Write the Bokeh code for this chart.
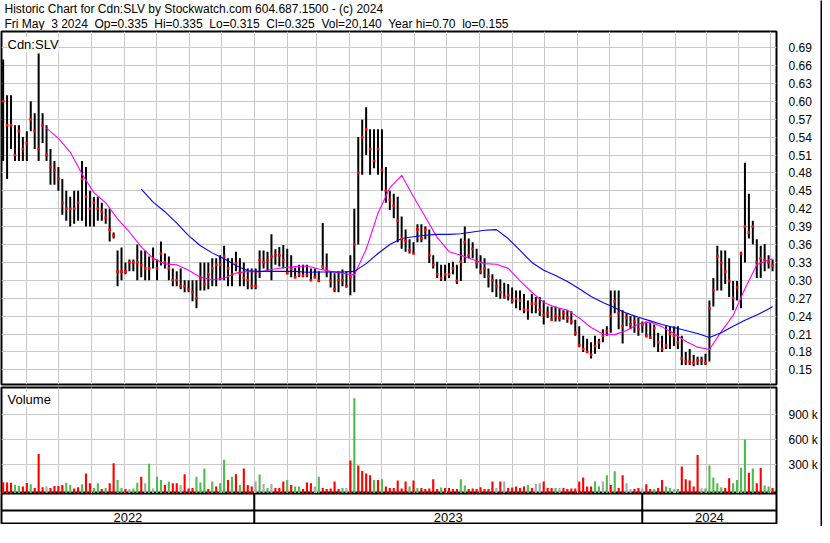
import pandas as pd
from bokeh.plotting import figure
from bokeh.layouts import column, row
from bokeh.models import (Range1d, FixedTicker, Grid, Label, Span,
                          ColumnDataSource, NumeralTickFormatter)
from bokeh.core.properties import value
from bokeh.embed import file_html
from bokeh.resources import INLINE

FONT = "Liberation Sans"
GRID = "#c8c8c8"

# ---------------- texts ----------------
title_line1 = "Historic Chart for Cdn:SLV by Stockwatch.com 604.687.1500 - (c) 2024"
title_line2 = ("Fri May\u00a0 3 2024\u00a0 Op=0.335\u00a0 Hi=0.335\u00a0 Lo=0.315\u00a0 "
               "Cl=0.325\u00a0 Vol=20,140\u00a0 Year hi=0.70\u00a0 lo=0.155")
symbol = "Cdn:SLV"
volume_title = "Volume"
years = ["2022", "2023", "2024"]
year_starts = ["2023-01-01", "2024-01-01"]

# ---------------- dates ----------------
bar_start = "2022-05-09 18:00"
bar_end = "2024-05-02 14:00"
view_start = "2022-05-08 05:00"
view_end = "2024-05-06 07:00"
month_first = "2022-06-01"
month_last = "2024-05-01"

# ---------------- price bars (high / low / close) ----------------
high = [0.67, 0.61, 0.61, 0.56, 0.56, 0.54, 0.55, 0.60, 0.58, 0.68,
        0.58, 0.56, 0.52, 0.50, 0.49, 0.47, 0.45, 0.44, 0.45, 0.45,
        0.50, 0.49, 0.45, 0.44, 0.44, 0.43, 0.42, 0.42, 0.38, 0.35,
        0.355, 0.33, 0.335, 0.335, 0.36, 0.35, 0.35, 0.34, 0.355, 0.335,
        0.365, 0.345, 0.34, 0.32, 0.315, 0.32, 0.30, 0.30, 0.30, 0.30,
        0.33, 0.33, 0.33, 0.337, 0.337, 0.342, 0.358, 0.337, 0.337, 0.348,
        0.337, 0.33, 0.32, 0.32, 0.32, 0.35, 0.35, 0.348, 0.377, 0.352,
        0.356, 0.359, 0.353, 0.342, 0.321, 0.326, 0.326, 0.326, 0.32, 0.32,
        0.315, 0.396, 0.345, 0.315, 0.312, 0.315, 0.318, 0.315, 0.342, 0.42,
        0.54, 0.569, 0.59, 0.553, 0.553, 0.553, 0.553, 0.49, 0.45, 0.445,
        0.44, 0.407, 0.385, 0.369, 0.364, 0.394, 0.394, 0.39, 0.385, 0.342,
        0.331, 0.326, 0.326, 0.329, 0.331, 0.326, 0.37, 0.39, 0.37, 0.364,
        0.353, 0.342, 0.337, 0.32, 0.31, 0.302, 0.302, 0.296, 0.294, 0.288,
        0.283, 0.283, 0.277, 0.266, 0.277, 0.272, 0.272, 0.266, 0.256, 0.256,
        0.256, 0.253, 0.25, 0.25, 0.248, 0.234, 0.223, 0.207, 0.202, 0.196,
        0.207, 0.202, 0.218, 0.223, 0.283, 0.283, 0.283, 0.25, 0.245, 0.24,
        0.24, 0.237, 0.231, 0.231, 0.229, 0.226, 0.212, 0.207, 0.223, 0.223,
        0.223, 0.223, 0.207, 0.18, 0.185, 0.175, 0.172, 0.172, 0.177, 0.266,
        0.304, 0.358, 0.35, 0.35, 0.337, 0.299, 0.299, 0.348, 0.497, 0.445,
        0.40, 0.369, 0.358, 0.361, 0.342, 0.335]
low = [0.50, 0.47, 0.52, 0.50, 0.50, 0.50, 0.50, 0.55, 0.52, 0.50,
       0.53, 0.50, 0.46, 0.46, 0.45, 0.41, 0.40, 0.39, 0.395, 0.40,
       0.40, 0.39, 0.39, 0.39, 0.40, 0.40, 0.395, 0.365, 0.37, 0.29,
       0.30, 0.31, 0.315, 0.315, 0.30, 0.305, 0.30, 0.30, 0.32, 0.30,
       0.325, 0.32, 0.30, 0.29, 0.29, 0.285, 0.28, 0.28, 0.265, 0.253,
       0.283, 0.283, 0.285, 0.29, 0.29, 0.30, 0.30, 0.29, 0.29, 0.315,
       0.29, 0.29, 0.285, 0.285, 0.285, 0.304, 0.32, 0.315, 0.30, 0.326,
       0.323, 0.32, 0.31, 0.305, 0.305, 0.305, 0.305, 0.305, 0.30, 0.305,
       0.297, 0.318, 0.305, 0.288, 0.28, 0.28, 0.29, 0.288, 0.275, 0.28,
       0.36, 0.477, 0.51, 0.477, 0.488, 0.477, 0.45, 0.43, 0.418, 0.404,
       0.364, 0.353, 0.348, 0.345, 0.345, 0.364, 0.364, 0.369, 0.329, 0.32,
       0.304, 0.299, 0.299, 0.304, 0.31, 0.294, 0.299, 0.329, 0.337, 0.337,
       0.32, 0.31, 0.304, 0.288, 0.28, 0.272, 0.269, 0.269, 0.266, 0.261,
       0.253, 0.25, 0.245, 0.234, 0.245, 0.245, 0.24, 0.226, 0.237, 0.234,
       0.231, 0.231, 0.234, 0.229, 0.226, 0.207, 0.188, 0.18, 0.18, 0.169,
       0.177, 0.185, 0.196, 0.207, 0.212, 0.245, 0.218, 0.194, 0.223, 0.218,
       0.212, 0.207, 0.212, 0.204, 0.202, 0.188, 0.18, 0.18, 0.185, 0.185,
       0.19, 0.185, 0.158, 0.158, 0.158, 0.156, 0.158, 0.158, 0.158, 0.164,
       0.256, 0.283, 0.283, 0.294, 0.272, 0.25, 0.266, 0.253, 0.33, 0.37,
       0.36, 0.304, 0.304, 0.315, 0.32, 0.315]
close = [0.60, 0.56, 0.56, 0.51, 0.55, 0.52, 0.53, 0.57, 0.55, 0.52,
         0.56, 0.51, 0.49, 0.485, 0.47, 0.43, 0.42, 0.42, 0.42, 0.43,
         0.47, 0.44, 0.42, 0.43, 0.42, 0.415, 0.405, 0.385, 0.375, 0.315,
         0.315, 0.315, 0.33, 0.33, 0.33, 0.325, 0.32, 0.32, 0.335, 0.32,
         0.345, 0.33, 0.32, 0.30, 0.30, 0.29, 0.29, 0.285, 0.28, 0.27,
         0.304, 0.294, 0.31, 0.32, 0.326, 0.326, 0.34, 0.32, 0.31, 0.3285,
         0.312, 0.304, 0.30, 0.291, 0.291, 0.334, 0.33, 0.334, 0.34, 0.342,
         0.342, 0.334, 0.312, 0.32, 0.305, 0.31, 0.308, 0.309, 0.30, 0.305,
         0.299, 0.323, 0.32, 0.299, 0.285, 0.30, 0.30, 0.29, 0.305, 0.36,
         0.48, 0.54, 0.553, 0.52, 0.50, 0.52, 0.485, 0.45, 0.435, 0.425,
         0.40, 0.369, 0.366, 0.35, 0.345, 0.385, 0.37, 0.385, 0.342, 0.326,
         0.31, 0.304, 0.31, 0.31, 0.32, 0.299, 0.331, 0.364, 0.342, 0.353,
         0.329, 0.315, 0.32, 0.307, 0.30, 0.29, 0.28, 0.272, 0.275, 0.266,
         0.269, 0.266, 0.251, 0.25, 0.261, 0.261, 0.251, 0.242, 0.245, 0.234,
         0.24, 0.237, 0.245, 0.237, 0.231, 0.212, 0.191, 0.185, 0.18, 0.175,
         0.19, 0.196, 0.207, 0.215, 0.24, 0.265, 0.245, 0.223, 0.237, 0.226,
         0.231, 0.218, 0.226, 0.207, 0.204, 0.22, 0.196, 0.185, 0.191, 0.21,
         0.207, 0.196, 0.169, 0.164, 0.164, 0.161, 0.166, 0.166, 0.161, 0.253,
         0.283, 0.34, 0.329, 0.315, 0.299, 0.27, 0.288, 0.345, 0.39, 0.38,
         0.39, 0.33, 0.337, 0.334, 0.33, 0.325]

# ---------------- volume (thousands) and direction r=down g=up n=unchanged ----------------
volume_k = [90, 88, 85, 60, 45, 40, 80, 65, 20, 430,
            30, 39, 20, 45, 45, 58, 85, 58, 15, 30,
            65, 195, 78, 20, 78, 10, 20, 78, 320, 117,
            20, 10, 10, 15, 85, 156, 78, 312, 15, 156,
            117, 58, 98, 78, 78, 58, 187, 15, 20, 156,
            86, 254, 10, 98, 39, 78, 360, 117, 156, 187,
            58, 254, 58, 39, 98, 183, 70, 20, 70, 20,
            20, 98, 117, 58, 39, 39, 10, 86, 78, 39,
            156, 20, 10, 15, 98, 10, 20, 20, 351, 1100,
            293, 226, 195, 175, 117, 117, 125, 39, 20, 20,
            110, 15, 98, 39, 110, 20, 20, 10, 15, 125,
            10, 27, 20, 20, 10, 10, 125, 50, 10, 15,
            10, 31, 10, 10, 98, 20, 98, 98, 20, 27,
            39, 20, 39, 58, 20, 70, 78, 98, 20, 20,
            20, 20, 20, 10, 15, 15, 98, 148, 39, 39,
            98, 39, 98, 175, 58, 222, 20, 175, 78, 10,
            10, 20, 15, 66, 10, 10, 20, 117, 39, 20,
            10, 10, 281, 125, 110, 39, 417, 15, 15, 293,
            148, 78, 31, 20, 137, 78, 117, 265, 605, 203,
            254, 78, 261, 51, 39, 20]
volume_dir = ("rrrggrrgrr" "rnrrrrggrr" "grrggrgrrg" "grnggrngng" "grgrrnrrrg"
              "ggrgrggrgr" "grrrngngnr" "rrgrggrrrn" "grrrrrgnrg" "rrrrgrgrrr"
              "rrrgrgrrrr" "rgrrrrggrr" "rrrrrnrnrr" "rrrgrnnrrr" "gnrrrrrrrr"
              "ggngrgrrnn" "rrnrrgrrgg" "ngrrrrrngg" "gggrrggggr" "grrggr")

# ---------------- moving averages (sampled on bar positions) ----------------
fast_ma_first, fast_ma_step = 11, 3
fast_ma = [0.555, 0.538, 0.515, 0.478, 0.447, 0.43, 0.403, 0.381, 0.356, 0.337,
           0.3275, 0.326, 0.317, 0.305, 0.301, 0.304, 0.312, 0.315, 0.314, 0.318,
           0.321, 0.323, 0.324, 0.319, 0.315, 0.312, 0.309, 0.352, 0.4125, 0.455,
           0.476, 0.44, 0.406, 0.372, 0.348, 0.342, 0.335, 0.328, 0.327, 0.32,
           0.299, 0.28, 0.263, 0.255, 0.25, 0.237, 0.221, 0.21, 0.209, 0.216,
           0.227, 0.23, 0.222, 0.211, 0.198, 0.188, 0.184, 0.214, 0.241, 0.286,
           0.326, 0.334]
fast_ma_last = 0.336
slow_ma_first, slow_ma_step = 35, 3
slow_ma = [0.453, 0.431, 0.415, 0.396, 0.375, 0.358, 0.346, 0.336, 0.325, 0.316,
           0.315, 0.315, 0.315, 0.315, 0.3135, 0.314, 0.314, 0.314, 0.315, 0.328,
           0.345, 0.36, 0.37, 0.373, 0.3755, 0.377, 0.377, 0.378, 0.381, 0.384,
           0.385, 0.37, 0.35, 0.33, 0.317, 0.308, 0.298, 0.286, 0.273, 0.263,
           0.254, 0.245, 0.238, 0.232, 0.226, 0.221, 0.216, 0.211, 0.204, 0.212,
           0.223, 0.233, 0.242, 0.252]
slow_ma_last = 0.256

# ---------------- axis ticks ----------------
price_ticks = [0.15, 0.18, 0.21, 0.24, 0.27, 0.30, 0.33, 0.36, 0.39, 0.42,
               0.45, 0.48, 0.51, 0.54, 0.57, 0.60, 0.63, 0.66, 0.69]
volume_ticks = [300000, 600000, 900000]
volume_tick_labels = ["300 k", "600 k", "900 k"]

# ================= build =================
n = len(close)
dates = pd.date_range(bar_start, bar_end, periods=n)
color_map = {"r": "#ff0000", "g": "#50bb50", "n": "#a8a8a8"}

price_src = ColumnDataSource(dict(x=dates, high=high, low=low, close=close))
vol_src = ColumnDataSource(dict(x=dates, vol=[v * 1000 for v in volume_k],
                                color=[color_map[c] for c in volume_dir]))

fast_idx = list(range(fast_ma_first, fast_ma_first + fast_ma_step * len(fast_ma), fast_ma_step)) + [n - 1]
slow_idx = list(range(slow_ma_first, slow_ma_first + slow_ma_step * len(slow_ma), slow_ma_step)) + [n - 1]
fast_x = dates[fast_idx]
slow_x = dates[slow_idx]
fast_y = fast_ma + [fast_ma_last]
slow_y = slow_ma + [slow_ma_last]

def ms(t):
    return pd.Timestamp(t).value / 1e6

month_ms = [ms(t) for t in pd.date_range(month_first, month_last, freq="MS")]
year_ms = [ms(t) for t in year_starts]
xr = Range1d(start=ms(view_start), end=ms(view_end))
bounds = [ms(view_start)] + year_ms + [ms(view_end)]
year_centers = [(bounds[i] + bounds[i + 1]) / 2 for i in range(len(years))]

W = 820
RIGHT = 40
common = dict(toolbar_location=None, tools="", output_backend="svg",
              background_fill_color="white", border_fill_color="white")

# header
H = figure(width=W, height=30, x_range=(0, 1), y_range=(0, 1),
           x_axis_location=None, y_axis_location=None, min_border=0,
           outline_line_color=None, **common)
H.grid.visible = False
H.add_layout(Label(x=3, y=22, x_units="screen", y_units="screen", text=title_line1,
                   text_font=FONT, text_font_size="12px", text_baseline="middle",
                   text_color="black"))
H.add_layout(Label(x=3, y=7, x_units="screen", y_units="screen", text=title_line2,
                   text_font=FONT, text_font_size="12px", text_baseline="middle",
                   text_color="black"))

# price panel
P = figure(width=W, height=356, x_range=xr, y_range=Range1d(0.1254, 0.717),
           x_axis_location=None, y_axis_location="right",
           min_border_left=1, min_border_right=RIGHT, min_border_top=1, min_border_bottom=2,
           outline_line_color="black", outline_line_width=2, **common)
P.yaxis.ticker = FixedTicker(ticks=price_ticks)
P.yaxis.formatter = NumeralTickFormatter(format="0.00")
P.ygrid.ticker = FixedTicker(ticks=price_ticks)
P.ygrid.grid_line_color = GRID
P.xgrid.visible = False
P.add_layout(Grid(dimension=0, ticker=FixedTicker(ticks=month_ms), grid_line_color=GRID))

P.segment(x0="x", y0="low", x1="x", y1="high", source=price_src,
          line_color="black", line_width=2)
P.line(fast_x, fast_y, line_color="#ff00ff", line_width=1.1)
P.line(slow_x, slow_y, line_color="#0000ff", line_width=1.1)
P.scatter(x="x", y="close", source=price_src, marker="square", size=2.6,
          fill_color="#ff0000", line_color=None)
P.add_layout(Label(x=6, y=340, x_units="screen", y_units="screen", text=symbol,
                   text_font=FONT, text_font_size="13px", text_baseline="middle",
                   text_color="black", background_fill_color="white"))

# volume panel
vol_floor = -45000
V = figure(width=W, height=107, x_range=xr, y_range=Range1d(vol_floor, 1229000),
           x_axis_location=None, y_axis_location="right",
           min_border_left=1, min_border_right=RIGHT, min_border_top=1, min_border_bottom=0,
           outline_line_color="black", outline_line_width=2, **common)
V.yaxis.ticker = FixedTicker(ticks=volume_ticks)
V.yaxis.major_label_overrides = dict(zip(volume_ticks, volume_tick_labels))
V.ygrid.ticker = FixedTicker(ticks=volume_ticks)
V.ygrid.grid_line_color = GRID
V.xgrid.visible = False
V.add_layout(Grid(dimension=0, ticker=FixedTicker(ticks=month_ms), grid_line_color=GRID))
V.vbar(x="x", top="vol", bottom=vol_floor, width=2 * 86400000, fill_color="color",
       line_color=None, source=vol_src)
V.add_layout(Label(x=6, y=94, x_units="screen", y_units="screen", text=volume_title,
                   text_font=FONT, text_font_size="13px", text_baseline="middle",
                   text_color="black", background_fill_color="white"))

for ax in (P.yaxis, V.yaxis):
    ax.major_tick_line_color = None
    ax.minor_tick_line_color = None
    ax.axis_line_color = None
    ax.major_label_standoff = 6
    ax.major_label_text_font = FONT
    ax.major_label_text_font_size = "12px"
    ax.major_label_text_color = "black"

# date panel
D = figure(width=W, height=31, x_range=xr, y_range=Range1d(0, 1),
           x_axis_location=None, y_axis_location=None,
           min_border_left=1, min_border_right=RIGHT, min_border_top=0, min_border_bottom=0,
           outline_line_color="black", outline_line_width=2, **common)
D.grid.visible = False
for b in year_ms:
    D.add_layout(Span(location=b, dimension="height", line_color="black", line_width=2))
D.add_layout(Span(location=0.45, dimension="width", line_color="black", line_width=2))
D.text(x=year_centers, y=[0.22] * len(years), text=years, text_align="center",
       text_baseline="middle", text_font=value(FONT), text_font_size=value("13px"),
       text_color="black")

bottom_strip = figure(width=W, height=2, x_axis_location=None, y_axis_location=None,
                      min_border=0, outline_line_color=None, toolbar_location=None,
                      tools="", output_backend="svg",
                      background_fill_color="black", border_fill_color="black")
right_strip = figure(width=2, height=526, x_axis_location=None, y_axis_location=None,
                     min_border=0, outline_line_color=None, toolbar_location=None,
                     tools="", output_backend="svg",
                     background_fill_color="black", border_fill_color="black")

layout = row(column(H, P, V, D, bottom_strip), right_strip)
open("out.html", "w").write(file_html(layout, INLINE))
